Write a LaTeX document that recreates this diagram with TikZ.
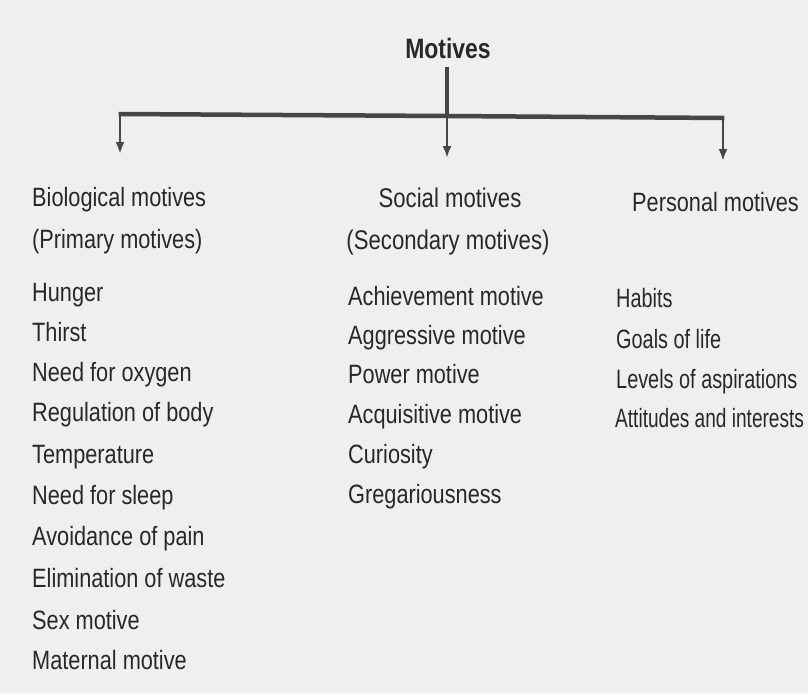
\documentclass[tikz,border=0pt]{standalone}
\usepackage{fontspec}
\setmainfont[FakeStretch=0.82]{Liberation Sans}
\newfontfamily\narrowfont[FakeStretch=0.75]{Liberation Sans}
\newfontfamily\narrowerfont[FakeStretch=0.72]{Liberation Sans}
\usetikzlibrary{arrows.meta}
\definecolor{bg}{RGB}{239,239,239}
\definecolor{ink}{RGB}{40,40,40}
\definecolor{linec}{RGB}{70,70,70}
\tikzset{
  item/.style={anchor=west, inner sep=0pt, text=ink, font=\fontsize{26.5}{29}\selectfont, text height=19pt, text depth=5pt},
  ritem/.style={item, font=\narrowfont\fontsize{26.5}{29}\selectfont},
  head/.style={inner sep=0pt, text=ink, font=\fontsize{27}{30}\selectfont, text height=19pt, text depth=5pt},
  bar/.style={draw=linec, line width=4.5pt},
  arr/.style={draw=linec, line width=2.6pt, -{Latex[length=12pt,width=9pt]}}
}
\begin{document}
\begin{tikzpicture}[x=1pt,y=-1pt]
\fill[bg] (0,0) rectangle (808,693);
\useasboundingbox (0,0) rectangle (808,693);
\node[head, font=\bfseries\fontsize{28}{31}\selectfont] (mot) at (448,52) {Motives};
% bar
\coordinate (bl) at (120,114);
\coordinate (bm) at (447,116);
\coordinate (br) at (723,118);
\coordinate (ta) at (120,154);
\coordinate (tb) at (447,158);
\coordinate (tc) at (723,161);
\draw[bar] (mot.south) ++(-1,3) coordinate (ms) -- (bm);
\draw[bar] ([xshift=-1.3pt]bl) -- (bm) -- ([xshift=1.3pt]br);
\draw[arr] (bl) -- (ta);
\draw[arr] (bm) -- (tb);
\draw[arr] (br) -- (tc);
% left column
\node[item] (b1) at (32,199) {Biological motives};
\node[item] (b2) at (32,241) {(Primary motives)};
\node[item] (l1) at (32,294) {Hunger};
\node[item] (l2) at (32,334) {Thirst};
\node[item] (l3) at (32,374) {Need for oxygen};
\node[item] (l4) at (32,414) {Regulation of body};
\node[item] (l5) at (32,456) {Temperature};
\node[item] (l6) at (32,497) {Need for sleep};
\node[item] (l7) at (32,538) {Avoidance of pain};
\node[item] (l8) at (32,580) {Elimination of waste};
\node[item] (l9) at (32,622) {Sex motive};
\node[item] (l10) at (32,662) {Maternal motive};
% middle column
\node[head] (s1) at (450,200) {Social motives};
\node[head] (s2) at (448,242) {(Secondary motives)};
\node[item] (m1) at (348,298) {Achievement motive};
\node[item] (m2) at (348,337) {Aggressive motive};
\node[item] (m3) at (348,376) {Power motive};
\node[item] (m4) at (348,416) {Acquisitive motive};
\node[item] (m5) at (348,456) {Curiosity};
\node[item] (m6) at (348,496) {Gregariousness};
% right column
\node[item] (p1) at (632,204) {Personal motives};
\node[ritem] (r1) at (616,300) {Habits};
\node[ritem] (r2) at (616,341) {Goals of life};
\node[ritem] (r3) at (616,381) {Levels of aspirations};
\node[ritem, font=\narrowerfont\fontsize{26.5}{29}\selectfont] (r4) at (615,420) {Attitudes and interests};
\end{tikzpicture}
\end{document}
